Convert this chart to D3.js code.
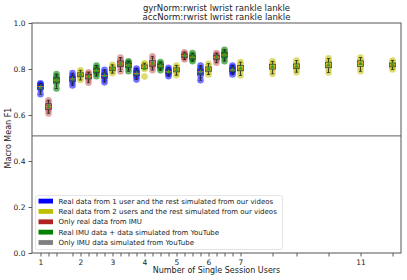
<!DOCTYPE html>
<html>
<head>
<meta charset="utf-8">
<script src="https://cdn.jsdelivr.net/npm/d3@7"></script>
<style>
  body { margin: 0; background: #fff; }
  svg { display: block; font-family: "DejaVu Sans", sans-serif; }
</style>
</head>
<body>
<script>
'use strict';

// box positions on the x axis and which series each belongs to
var boxPositions = [1, 2, 3, 5, 6, 7, 8, 9, 10, 11, 12, 13, 14, 15, 16, 17, 18, 19, 20, 21, 22, 23, 24, 25, 26, 30, 33, 37, 41, 45];
var boxSeries = ['b', 'r', 'g', 'b', 'y', 'r', 'g', 'b', 'y', 'r', 'g', 'b', 'y', 'r', 'g', 'b', 'y', 'r', 'g', 'b', 'y', 'r', 'g', 'b', 'y', 'y', 'y', 'y', 'y', 'y'];

// F1 scores per box (one value per run)
var boxScores = [
    [0.690, 0.712, 0.720, 0.728, 0.733, 0.738],
    [0.607, 0.622, 0.632, 0.640, 0.652, 0.664],
    [0.715, 0.738, 0.748, 0.755, 0.766, 0.778],
    [0.728, 0.745, 0.754, 0.760, 0.768, 0.782],
    [0.752, 0.765, 0.772, 0.778, 0.785, 0.794],
    [0.740, 0.755, 0.764, 0.770, 0.778, 0.786],
    [0.769, 0.783, 0.790, 0.796, 0.805, 0.815],
    [0.742, 0.758, 0.768, 0.774, 0.785, 0.797],
    [0.782, 0.792, 0.798, 0.802, 0.810, 0.818],
    [0.789, 0.808, 0.818, 0.826, 0.838, 0.850],
    [0.790, 0.805, 0.814, 0.820, 0.828, 0.834],
    [0.754, 0.768, 0.778, 0.784, 0.793, 0.802],
    [0.767, 0.800, 0.807, 0.813, 0.819, 0.825],
    [0.795, 0.810, 0.818, 0.826, 0.840, 0.855],
    [0.795, 0.805, 0.811, 0.815, 0.823, 0.830],
    [0.769, 0.779, 0.786, 0.790, 0.798, 0.805],
    [0.773, 0.786, 0.794, 0.798, 0.807, 0.815],
    [0.841, 0.850, 0.856, 0.860, 0.866, 0.873],
    [0.834, 0.843, 0.849, 0.853, 0.860, 0.869],
    [0.751, 0.772, 0.785, 0.791, 0.802, 0.815],
    [0.776, 0.788, 0.797, 0.801, 0.811, 0.823],
    [0.827, 0.840, 0.848, 0.854, 0.862, 0.869],
    [0.834, 0.849, 0.858, 0.864, 0.874, 0.884],
    [0.776, 0.787, 0.794, 0.798, 0.807, 0.815],
    [0.772, 0.790, 0.800, 0.806, 0.818, 0.830],
    [0.779, 0.797, 0.807, 0.813, 0.823, 0.833],
    [0.786, 0.800, 0.807, 0.813, 0.825, 0.837],
    [0.785, 0.803, 0.814, 0.820, 0.833, 0.846],
    [0.790, 0.808, 0.822, 0.828, 0.838, 0.850],
    [0.798, 0.808, 0.815, 0.819, 0.828, 0.837]
];

// only IMU data simulated from YouTube (horizontal reference)
var youtubeOnlyScore = 0.509;

var tickLabelPositions = [1, 6, 10, 14, 18, 22, 26, 41];
var tickLabels = ['1', '2', '3', '4', '5', '6', '7', '11'];

var yTicks = [0, 0.2, 0.4, 0.6, 0.8, 1.0];

var legendKeys = ['b', 'y', 'r', 'g', 'k'];
var legendLabels = [
    'Real data from 1 user and the rest simulated from our videos',
    'Real data from 2 users and the rest simulated from our videos',
    'Only real data from IMU',
    'Real IMU data + data simulated from YouTube',
    'Only IMU data simulated from YouTube'
];

var titleLines = ['gyrNorm:rwrist lwrist rankle lankle', 'accNorm:rwrist lwrist rankle lankle'];

var myChart = {};
myChart.width = 407;
myChart.height = 280;
myChart.left = 32;
myChart.right = 401;
myChart.top = 23;
myChart.bottom = 253;

myChart.colors = { b: '#0000ff', y: '#bfbf00', r: '#b22222', g: '#008000', k: '#808080' };
myChart.pointOpacity = { b: 0.55, y: 0.55, r: 0.4, g: 0.6, k: 0.5 };

myChart.x = d3.scaleLinear().domain([-0.06, 46.06]).range([myChart.left, myChart.right]);
myChart.y = d3.scaleLinear().domain([0, 1]).range([myChart.bottom, myChart.top]);

myChart.appendSVG = function(div){
    return d3.select(div).append('svg')
        .attr('width', myChart.width)
        .attr('height', myChart.height);
}

myChart.createAxes = function(svg){
    var x = myChart.x, y = myChart.y;

    // y axis
    var yAxis = svg.append('g')
        .attr('transform', 'translate(' + myChart.left + ',0)')
        .call(d3.axisLeft(y).tickValues(yTicks).tickFormat(d3.format('.1f')).tickSize(3.5).tickPadding(3));
    yAxis.select('.domain').remove();
    yAxis.selectAll('.tick line').attr('stroke', '#333').attr('stroke-width', 0.8);
    yAxis.selectAll('.tick text').attr('font-size', 7.5).attr('fill', '#222')
        .attr('font-family', '"DejaVu Sans", sans-serif');

    // x axis: tick at every box, labels only at some
    var xAxis = svg.append('g')
        .attr('transform', 'translate(0,' + myChart.bottom + ')')
        .call(d3.axisBottom(x).tickValues(boxPositions).tickFormat(function(d){
            var i = tickLabelPositions.indexOf(d);
            return i >= 0 ? tickLabels[i] : '';
        }).tickSize(3.5).tickPadding(3));
    xAxis.select('.domain').remove();
    xAxis.selectAll('.tick line').attr('stroke', '#333').attr('stroke-width', 0.8);
    xAxis.selectAll('.tick text').attr('font-size', 7.5).attr('fill', '#222')
        .attr('font-family', '"DejaVu Sans", sans-serif');

    // frame
    svg.append('rect')
        .attr('x', myChart.left)
        .attr('y', myChart.top)
        .attr('width', myChart.right - myChart.left)
        .attr('height', myChart.bottom - myChart.top)
        .attr('fill', 'none')
        .attr('stroke', '#555')
        .attr('stroke-width', 1);

    svg.append('text')
        .attr('x', (myChart.left + myChart.right) / 2)
        .attr('y', 273)
        .attr('text-anchor', 'middle')
        .attr('font-size', 8)
        .attr('fill', '#222')
        .text('Number of Single Session Users');

    svg.append('text')
        .attr('transform', 'translate(11,' + (myChart.top + myChart.bottom) / 2 + ') rotate(-90)')
        .attr('text-anchor', 'middle')
        .attr('font-size', 8)
        .attr('fill', '#222')
        .text('Macro Mean F1');

    svg.selectAll('.title-line')
        .data(titleLines)
        .enter()
            .append('text')
            .classed('title-line', true)
            .attr('x', (myChart.left + myChart.right) / 2)
            .attr('y', function(d, i){ return 10.5 + i * 9.5; })
            .attr('text-anchor', 'middle')
            .attr('font-size', 8.5)
            .attr('fill', '#222')
            .text(function(d){ return d; });
}

myChart.createRefLine = function(svg){
    svg.append('line')
        .attr('x1', myChart.left)
        .attr('x2', myChart.right)
        .attr('y1', myChart.y(youtubeOnlyScore))
        .attr('y2', myChart.y(youtubeOnlyScore))
        .attr('stroke', myChart.colors.k)
        .attr('stroke-width', 1.3);
}

myChart.createPoints = function(svg){
    var x = myChart.x, y = myChart.y;
    var pts = [];
    boxScores.forEach(function(vals, i){
        vals.forEach(function(v){
            pts.push({ pos: boxPositions[i], s: boxSeries[i], v: v });
        });
    });

    svg.selectAll('.pt')
        .data(pts)
        .enter()
            .append('circle')
            .classed('pt', true)
            .attr('cx', function(d){ return x(d.pos); })
            .attr('cy', function(d){ return y(d.v); })
            .attr('r', 3.3)
            .attr('fill', function(d){ return myChart.colors[d.s]; })
            .attr('fill-opacity', function(d){ return myChart.pointOpacity[d.s]; });
}

myChart.createBoxes = function(svg){
    var x = myChart.x, y = myChart.y;
    var half = 0.38;

    var stats = boxScores.map(function(vals, i){
        var s = vals.slice().sort(d3.ascending);
        var q1 = d3.quantile(s, 0.25), med = d3.quantile(s, 0.5), q3 = d3.quantile(s, 0.75);
        var iqr = q3 - q1;
        var lo = d3.min(s.filter(function(v){ return v >= q1 - 1.5 * iqr; }));
        var hi = d3.max(s.filter(function(v){ return v <= q3 + 1.5 * iqr; }));
        return { pos: boxPositions[i], q1: q1, med: med, q3: q3, lo: lo, hi: hi, mean: d3.mean(s) };
    });

    var g = svg.selectAll('.box')
        .data(stats)
        .enter()
            .append('g')
            .classed('box', true);

    // whiskers
    g.append('line')
        .attr('x1', function(d){ return x(d.pos); })
        .attr('x2', function(d){ return x(d.pos); })
        .attr('y1', function(d){ return y(d.q1); })
        .attr('y2', function(d){ return y(d.lo); })
        .attr('stroke', '#222').attr('stroke-width', 0.8);
    g.append('line')
        .attr('x1', function(d){ return x(d.pos); })
        .attr('x2', function(d){ return x(d.pos); })
        .attr('y1', function(d){ return y(d.q3); })
        .attr('y2', function(d){ return y(d.hi); })
        .attr('stroke', '#222').attr('stroke-width', 0.8);

    // caps
    ['lo', 'hi'].forEach(function(k){
        g.append('line')
            .attr('x1', function(d){ return x(d.pos - half / 2); })
            .attr('x2', function(d){ return x(d.pos + half / 2); })
            .attr('y1', function(d){ return y(d[k]); })
            .attr('y2', function(d){ return y(d[k]); })
            .attr('stroke', '#222').attr('stroke-width', 0.8);
    });

    // box
    g.append('rect')
        .attr('x', function(d){ return x(d.pos - half); })
        .attr('y', function(d){ return y(d.q3); })
        .attr('width', function(d){ return x(d.pos + half) - x(d.pos - half); })
        .attr('height', function(d){ return Math.max(y(d.q1) - y(d.q3), 1); })
        .attr('fill', 'none')
        .attr('stroke', '#444').attr('stroke-width', 0.8);

    // median
    g.append('line')
        .attr('x1', function(d){ return x(d.pos - half); })
        .attr('x2', function(d){ return x(d.pos + half); })
        .attr('y1', function(d){ return y(d.med); })
        .attr('y2', function(d){ return y(d.med); })
        .attr('stroke', '#ff7f0e').attr('stroke-width', 1);

    // mean
    g.append('path')
        .attr('d', d3.symbol().type(d3.symbolTriangle).size(9))
        .attr('transform', function(d){ return 'translate(' + x(d.pos) + ',' + y(d.mean) + ')'; })
        .attr('fill', '#2ca02c');
}

myChart.createLegend = function(svg){
    var lx = 35.5, ly = 195.5;
    svg.append('rect')
        .attr('x', lx).attr('y', ly)
        .attr('width', 247).attr('height', 54)
        .attr('rx', 2)
        .attr('fill', '#fff').attr('fill-opacity', 0.8)
        .attr('stroke', '#ddd').attr('stroke-width', 0.8);

    var item = svg.selectAll('.legend-item')
        .data(legendKeys)
        .enter()
            .append('g')
            .classed('legend-item', true)
            .attr('transform', function(d, i){ return 'translate(' + (lx + 3) + ',' + (ly + 5.5 + i * 10.35) + ')'; });

    item.append('rect')
        .attr('x', 0).attr('y', -2.3)
        .attr('width', 14.5).attr('height', 4.8)
        .attr('fill', function(d){ return myChart.colors[d]; });

    item.append('text')
        .attr('x', 20)
        .attr('y', 2.6)
        .attr('font-size', 7)
        .attr('fill', '#222')
        .text(function(d, i){ return legendLabels[i]; });
}

myChart.run = function(){
    var svg = myChart.appendSVG('body');
    myChart.createRefLine(svg);
    myChart.createPoints(svg);
    myChart.createBoxes(svg);
    myChart.createAxes(svg);
    myChart.createLegend(svg);
}

window.onload = myChart.run;
</script>
</body>
</html>
